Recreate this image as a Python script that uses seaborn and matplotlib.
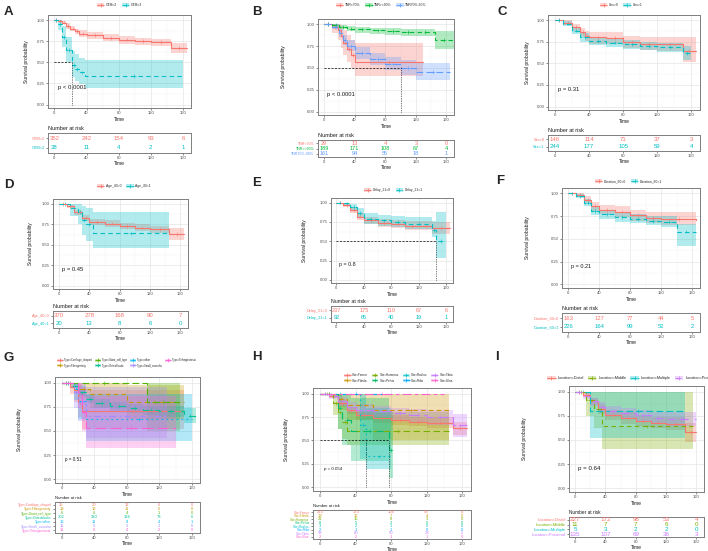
import matplotlib
matplotlib.use("Agg")
import pandas as pd
import matplotlib.pyplot as plt
import seaborn as sns
from matplotlib.lines import Line2D
from matplotlib.patches import Patch
from matplotlib.ticker import AutoMinorLocator

# ---------------- data ----------------
RISK_TIMES = [0, 40, 80, 120, 160]

A_time = {"GTM=2": [0, 5, 10, 15, 20, 25, 30, 40, 60, 80, 100, 120, 145, 165],
          "GTM=3": [0, 5, 10, 15, 22, 26, 30, 38, 160]}
A_surv = {"GTM=2": [1, 0.99, 0.97, 0.93, 0.9, 0.87, 0.84, 0.82, 0.79, 0.77, 0.75, 0.74, 0.67, 0.67],
          "GTM=3": [1, 0.95, 0.8, 0.65, 0.47, 0.42, 0.38, 0.34, 0.34]}
A_low = {"GTM=2": [1, 0.98, 0.95, 0.9, 0.87, 0.83, 0.8, 0.78, 0.75, 0.72, 0.7, 0.69, 0.61, 0.61],
         "GTM=3": [1, 0.88, 0.68, 0.5, 0.33, 0.28, 0.24, 0.2, 0.2]}
A_high = {"GTM=2": [1, 1, 0.99, 0.96, 0.93, 0.9, 0.88, 0.86, 0.83, 0.81, 0.79, 0.78, 0.73, 0.73],
          "GTM=3": [1, 1, 0.93, 0.8, 0.64, 0.6, 0.55, 0.53, 0.53]}
A_risk = {"GTM=2": [352, 242, 154, 93, 6], "GTM=3": [38, 11, 4, 2, 1]}

B_time = {"TNR<70%": [0, 10, 18, 22, 25, 30, 35, 40, 130],
          "TNR>=90%": [0, 10, 20, 30, 40, 60, 80, 100, 120, 145, 170],
          "TNR70%-90%": [0, 10, 20, 25, 30, 40, 60, 80, 100, 120, 165]}
B_surv = {"TNR<70%": [1, 0.97, 0.93, 0.86, 0.79, 0.72, 0.65, 0.57, 0.57],
          "TNR>=90%": [1, 0.99, 0.97, 0.95, 0.94, 0.93, 0.92, 0.91, 0.91, 0.82, 0.82],
          "TNR70%-90%": [1, 0.97, 0.9, 0.82, 0.75, 0.67, 0.6, 0.55, 0.5, 0.45, 0.45]}
B_low = {"TNR<70%": [1, 0.9, 0.82, 0.73, 0.65, 0.57, 0.5, 0.41, 0.41],
         "TNR>=90%": [1, 0.97, 0.94, 0.92, 0.9, 0.89, 0.88, 0.87, 0.86, 0.72, 0.72],
         "TNR70%-90%": [1, 0.94, 0.85, 0.76, 0.69, 0.6, 0.53, 0.47, 0.42, 0.36, 0.36]}
B_high = {"TNR<70%": [1, 1, 1, 0.98, 0.93, 0.88, 0.82, 0.78, 0.78],
          "TNR>=90%": [1, 1, 0.99, 0.98, 0.97, 0.96, 0.96, 0.95, 0.95, 0.92, 0.92],
          "TNR70%-90%": [1, 1, 0.95, 0.88, 0.82, 0.74, 0.67, 0.63, 0.59, 0.56, 0.56]}
B_risk = {"TNR<70%": [29, 13, 4, 3, 0], "TNR>=90%": [189, 171, 108, 67, 4],
          "TNR70%-90%": [161, 94, 55, 18, 1]}

C_time = {"Sex=0": [0, 10, 20, 30, 35, 40, 60, 80, 100, 120, 150, 165],
          "Sex=1": [0, 10, 20, 30, 40, 60, 80, 100, 120, 150, 160]}
C_surv = {"Sex=0": [1, 0.97, 0.92, 0.86, 0.82, 0.8, 0.79, 0.75, 0.73, 0.72, 0.64, 0.64],
          "Sex=1": [1, 0.96, 0.88, 0.8, 0.76, 0.74, 0.72, 0.7, 0.69, 0.62, 0.62]}
C_low = {"Sex=0": [1, 0.94, 0.88, 0.8, 0.76, 0.73, 0.72, 0.68, 0.66, 0.64, 0.52, 0.52],
         "Sex=1": [1, 0.93, 0.84, 0.75, 0.71, 0.69, 0.67, 0.65, 0.63, 0.54, 0.54]}
C_high = {"Sex=0": [1, 1, 0.96, 0.91, 0.88, 0.86, 0.86, 0.82, 0.8, 0.8, 0.8, 0.8],
          "Sex=1": [1, 0.99, 0.92, 0.85, 0.81, 0.79, 0.77, 0.75, 0.74, 0.7, 0.7]}
C_risk = {"Sex=0": [146, 114, 71, 37, 3], "Sex=1": [244, 177, 105, 59, 4]}

D_time = {"Age_40=0": [0, 10, 20, 30, 40, 60, 80, 100, 120, 145, 165],
          "Age_40=1": [0, 15, 25, 30, 35, 45, 145]}
D_surv = {"Age_40=0": [1, 0.97, 0.9, 0.83, 0.78, 0.76, 0.73, 0.71, 0.69, 0.63, 0.63],
          "Age_40=1": [1, 0.95, 0.9, 0.8, 0.75, 0.64, 0.64]}
D_low = {"Age_40=0": [1, 0.95, 0.87, 0.79, 0.74, 0.72, 0.69, 0.67, 0.65, 0.56, 0.56],
         "Age_40=1": [1, 0.85, 0.75, 0.62, 0.55, 0.46, 0.46]}
D_high = {"Age_40=0": [1, 0.99, 0.93, 0.87, 0.82, 0.8, 0.77, 0.75, 0.73, 0.7, 0.7],
          "Age_40=1": [1, 1, 1, 0.98, 0.95, 0.9, 0.9]}
D_risk = {"Age_40=0": [370, 278, 168, 90, 7], "Age_40=1": [20, 13, 8, 6, 0]}

E_time = {"Delay_21=0": [0, 10, 20, 30, 40, 60, 80, 100, 120, 140, 165],
          "Delay_21=1": [0, 10, 20, 30, 40, 60, 80, 100, 140, 145, 160]}
E_surv = {"Delay_21=0": [1, 0.97, 0.9, 0.82, 0.77, 0.74, 0.72, 0.7, 0.7, 0.67, 0.67],
          "Delay_21=1": [1, 0.99, 0.94, 0.87, 0.79, 0.77, 0.75, 0.73, 0.65, 0.5, 0.5]}
E_low = {"Delay_21=0": [1, 0.95, 0.86, 0.77, 0.72, 0.69, 0.67, 0.65, 0.64, 0.59, 0.59],
         "Delay_21=1": [1, 0.96, 0.89, 0.81, 0.72, 0.7, 0.68, 0.66, 0.55, 0.28, 0.28]}
E_high = {"Delay_21=0": [1, 0.99, 0.94, 0.86, 0.82, 0.79, 0.77, 0.76, 0.76, 0.75, 0.75],
          "Delay_21=1": [1, 1, 0.98, 0.93, 0.86, 0.84, 0.83, 0.81, 0.76, 0.88, 0.88]}
E_risk = {"Delay_21=0": [237, 175, 110, 67, 6], "Delay_21=1": [92, 65, 40, 19, 1]}

F_time = {"Duration_60=0": [0, 10, 20, 30, 40, 60, 80, 100, 120, 165],
          "Duration_60=1": [0, 10, 20, 30, 40, 60, 80, 100, 120, 140, 165]}
F_surv = {"Duration_60=0": [1, 0.98, 0.93, 0.86, 0.82, 0.8, 0.76, 0.73, 0.72, 0.71],
          "Duration_60=1": [1, 0.97, 0.9, 0.81, 0.77, 0.74, 0.72, 0.7, 0.69, 0.58, 0.58]}
F_low = {"Duration_60=0": [1, 0.96, 0.89, 0.81, 0.77, 0.74, 0.7, 0.67, 0.65, 0.62],
         "Duration_60=1": [1, 0.95, 0.86, 0.76, 0.72, 0.69, 0.67, 0.65, 0.63, 0.42, 0.42]}
F_high = {"Duration_60=0": [1, 1, 0.97, 0.91, 0.87, 0.86, 0.82, 0.8, 0.8, 0.8],
          "Duration_60=1": [1, 0.99, 0.94, 0.86, 0.82, 0.79, 0.77, 0.75, 0.75, 0.66, 0.66]}
F_risk = {"Duration_60=0": [163, 127, 77, 44, 5], "Duration_60=1": [226, 164, 99, 52, 2]}

G_time = {"Type=Cartilage_shaped": [0, 10, 15, 20, 25, 150],
          "Type=Fibrogenicity": [0, 20, 35, 80, 150],
          "Type=Giant_cell_type": [0, 105, 145],
          "Type=Osteoblastic": [0, 10, 20, 30, 40, 60, 80, 100, 120, 150, 165],
          "Type=other": [0, 15, 20, 30, 160],
          "Type=Small_vascular": [0, 15, 20, 30, 130],
          "Type=Telangiectasia": [0, 20, 25, 30, 140]}
G_surv = {"Type=Cartilage_shaped": [1, 0.96, 0.92, 0.8, 0.71, 0.71],
          "Type=Fibrogenicity": [1, 0.94, 0.88, 0.8, 0.8],
          "Type=Giant_cell_type": [1, 0.8, 0.8],
          "Type=Osteoblastic": [1, 0.97, 0.9, 0.83, 0.79, 0.76, 0.74, 0.72, 0.71, 0.66, 0.66],
          "Type=other": [1, 0.94, 0.81, 0.62, 0.62],
          "Type=Small_vascular": [1, 0.9, 0.8, 0.66, 0.66],
          "Type=Telangiectasia": [1, 0.9, 0.7, 0.53, 0.53]}
G_low = {"Type=Cartilage_shaped": [1, 0.88, 0.8, 0.64, 0.52, 0.52],
         "Type=Fibrogenicity": [1, 0.84, 0.74, 0.62, 0.62],
         "Type=Giant_cell_type": [1, 0.5, 0.5],
         "Type=Osteoblastic": [1, 0.95, 0.86, 0.79, 0.74, 0.71, 0.69, 0.67, 0.65, 0.58, 0.58],
         "Type=other": [1, 0.82, 0.62, 0.4, 0.4],
         "Type=Small_vascular": [1, 0.74, 0.6, 0.43, 0.43],
         "Type=Telangiectasia": [1, 0.74, 0.5, 0.32, 0.32]}
G_high = {"Type=Cartilage_shaped": [1, 1, 1, 0.98, 0.93, 0.93],
          "Type=Fibrogenicity": [1, 1, 1, 0.98, 0.98],
          "Type=Giant_cell_type": [1, 1, 1],
          "Type=Osteoblastic": [1, 0.99, 0.93, 0.87, 0.83, 0.8, 0.78, 0.76, 0.76, 0.74, 0.74],
          "Type=other": [1, 1, 0.97, 0.88, 0.88],
          "Type=Small_vascular": [1, 1, 1, 0.96, 0.96],
          "Type=Telangiectasia": [1, 1, 0.96, 0.86, 0.86]}
G_risk = {"Type=Cartilage_shaped": [25, 20, 12, 6, 0], "Type=Fibrogenicity": [18, 12, 11, 6, 0],
          "Type=Giant_cell_type": [6, 6, 4, 1, 0], "Type=Osteoblastic": [302, 230, 134, 73, 6],
          "Type=other": [16, 11, 8, 4, 1], "Type=Small_vascular": [11, 6, 3, 2, 0],
          "Type=Telangiectasia": [11, 6, 4, 2, 0]}

H_time = {"Site=Femur": [0, 10, 20, 30, 40, 60, 80, 100, 120, 150, 165],
          "Site=Fibula": [0, 20, 30, 60, 145],
          "Site=Humerus": [0, 15, 20, 25, 30, 145],
          "Site=Pelvis": [0, 20, 25, 35, 78, 82],
          "Site=Radius": [0, 45, 52, 80],
          "Site=Ribs": [0, 80],
          "Site=Tibia": [0, 10, 20, 30, 40, 60, 80, 100, 120, 150, 165],
          "Site=Ulna": [0, 140]}
H_surv = {"Site=Femur": [1, 0.97, 0.9, 0.82, 0.77, 0.74, 0.72, 0.7, 0.69, 0.63, 0.63],
          "Site=Fibula": [1, 0.94, 0.88, 0.82, 0.82],
          "Site=Humerus": [1, 0.9, 0.8, 0.7, 0.6, 0.6],
          "Site=Pelvis": [1, 0.85, 0.72, 0.6, 0.4, 0.4],
          "Site=Radius": [1, 0.67, 0.33, 0.33],
          "Site=Ribs": [1, 1],
          "Site=Tibia": [1, 0.97, 0.92, 0.86, 0.83, 0.81, 0.79, 0.77, 0.75, 0.66, 0.66],
          "Site=Ulna": [1, 1]}
H_low = {"Site=Femur": [1, 0.95, 0.86, 0.78, 0.72, 0.69, 0.67, 0.65, 0.63, 0.56, 0.56],
         "Site=Fibula": [1, 0.83, 0.72, 0.5, 0.5],
         "Site=Humerus": [1, 0.77, 0.62, 0.52, 0.45, 0.45],
         "Site=Pelvis": [1, 0.62, 0.45, 0.28, 0.1, 0.1],
         "Site=Radius": [1, 0.3, 0.2, 0.2],
         "Site=Ribs": [1, 1],
         "Site=Tibia": [1, 0.94, 0.87, 0.8, 0.77, 0.75, 0.72, 0.7, 0.67, 0.54, 0.54],
         "Site=Ulna": [1, 1]}
H_high = {"Site=Femur": [1, 0.99, 0.93, 0.86, 0.81, 0.79, 0.77, 0.75, 0.75, 0.7, 0.7],
          "Site=Fibula": [1, 1, 1, 1, 1],
          "Site=Humerus": [1, 1, 0.98, 0.9, 0.8, 0.8],
          "Site=Pelvis": [1, 1, 1, 0.95, 0.8, 0.8],
          "Site=Radius": [1, 1, 0.85, 0.85],
          "Site=Ribs": [1, 1],
          "Site=Tibia": [1, 1, 0.96, 0.91, 0.89, 0.87, 0.85, 0.84, 0.83, 0.78, 0.78],
          "Site=Ulna": [1, 1]}
H_risk = {"Site=Femur": [223, 173, 104, 58, 4], "Site=Fibula": [19, 16, 7, 4, 0],
          "Site=Humerus": [21, 15, 8, 3, 0], "Site=Pelvis": [8, 5, 2, 0, 0],
          "Site=Radius": [3, 2, 1, 0, 0], "Site=Ribs": [2, 1, 1, 0, 0],
          "Site=Tibia": [96, 80, 50, 28, 2], "Site=Ulna": [2, 2, 1, 1, 0]}

I_time = {"Location=Distal": [0, 10, 20, 30, 40, 60, 80, 100, 120, 145, 160],
          "Location=Middle": [0, 15, 25, 35, 155],
          "Location=Multiple": [0, 20, 145],
          "Location=Proximal": [0, 10, 20, 30, 40, 60, 80, 100, 120, 160]}
I_surv = {"Location=Distal": [1, 0.97, 0.9, 0.82, 0.76, 0.73, 0.7, 0.68, 0.67, 0.58, 0.58],
          "Location=Middle": [1, 0.91, 0.82, 0.64, 0.64],
          "Location=Multiple": [1, 0.8, 0.8],
          "Location=Proximal": [1, 0.96, 0.9, 0.84, 0.8, 0.78, 0.76, 0.73, 0.72, 0.72]}
I_low = {"Location=Distal": [1, 0.95, 0.86, 0.77, 0.71, 0.67, 0.64, 0.62, 0.6, 0.48, 0.48],
         "Location=Middle": [1, 0.75, 0.62, 0.41, 0.41],
         "Location=Multiple": [1, 0.52, 0.52],
         "Location=Proximal": [1, 0.93, 0.85, 0.79, 0.75, 0.72, 0.7, 0.67, 0.65, 0.65]}
I_high = {"Location=Distal": [1, 0.99, 0.94, 0.87, 0.81, 0.79, 0.76, 0.74, 0.74, 0.68, 0.68],
          "Location=Middle": [1, 1, 1, 1, 1],
          "Location=Multiple": [1, 1, 1],
          "Location=Proximal": [1, 0.99, 0.94, 0.89, 0.85, 0.83, 0.81, 0.79, 0.79, 0.79]}
I_risk = {"Location=Distal": [227, 172, 98, 53, 4], "Location=Middle": [11, 7, 7, 6, 0],
          "Location=Multiple": [5, 3, 2, 2, 0], "Location=Proximal": [135, 107, 69, 36, 3]}

PAL2 = ["#F8766D", "#00BFC4"]
PAL3 = ["#F8766D", "#00BA38", "#619CFF"]
PAL4 = ["#F8766D", "#7CAE00", "#00BFC4", "#C77CFF"]
PAL7 = ["#F8766D", "#C49A00", "#53B400", "#00C094", "#00B6EB", "#A58AFF", "#FB61D7"]
PAL8 = ["#F8766D", "#CD9600", "#7CAE00", "#00BE67", "#00BFC4", "#00A9FF", "#C77CFF", "#FF61CC"]
DASHES = ["", (4, 3), (6, 3), (6, 6), (1.5, 3), (1.5, 3, 6, 3), (10, 4), (3, 3, 8, 3)]

# ---------------- figure ----------------
W, H = 708, 551
sns.set_theme(style="white")
plt.rcParams["font.family"] = ["Liberation Sans", "DejaVu Sans"]
fig = plt.figure(figsize=(W / 100, H / 100), dpi=100)


def rect(x0, y0, x1, y1):
    return [x0 / W, 1 - y1 / H, (x1 - x0) / W, (y1 - y0) / H]


def style_axis(ax):
    for s in ax.spines.values():
        s.set_color("#7f7f7f")
        s.set_linewidth(0.7)
    ax.set_xlim(-8, 170)
    ax.set_xticks(RISK_TIMES)
    ax.tick_params(length=1.5, width=0.4, color="#333333", labelsize=3, pad=1,
                   labelcolor="#4d4d4d", bottom=True, left=True)


def km_panel(letter, letter_px, plot_px, risk_px, legend_px, ylab_x, times, surv, low, high,
             risk, pval, palette, pfs=4.2, tfs=4, rfs=4.3, lfs=2.8, gfs=2.4, legend_rows=1,
             colsp=1.4):
    groups = list(times)
    colors = dict(zip(groups, palette))
    dashes = dict(zip(groups, DASHES))
    curves = pd.concat([pd.DataFrame({"group": g, "time": times[g], "surv": surv[g],
                                      "low": low[g], "high": high[g]}) for g in groups],
                       ignore_index=True)

    ax = fig.add_axes(rect(*plot_px))
    for g in groups:
        d = curves[curves.group == g]
        ax.fill_between(d.time, d.low, d.high, step="post", color=colors[g], alpha=0.3, lw=0)
    sns.lineplot(data=curves, x="time", y="surv", hue="group", style="group",
                 hue_order=groups, style_order=groups, palette=colors, dashes=dashes,
                 drawstyle="steps-post", lw=0.8, legend=False, errorbar=None, ax=ax)
    # censor ticks in the middle of each plateau
    marks = curves.copy()
    marks["next"] = curves.groupby("group").time.shift(-1)
    marks = marks.dropna()
    marks["mid"] = (marks.time + marks.next) / 2
    sns.scatterplot(data=marks, x="mid", y="surv", hue="group", palette=colors,
                    marker="+", s=7, linewidth=0.4, legend=False, ax=ax)
    # median survival lines
    meds = [curves[(curves.group == g) & (curves.surv <= 0.5)].time.min() for g in groups]
    meds = [m for m in meds if pd.notna(m)]
    if meds:
        ax.plot([0, max(meds)], [0.5, 0.5], color="black", lw=0.5, ls=(0, (3, 2)))
        for m in meds:
            ax.plot([m, m], [0, 0.5], color="black", lw=0.5, ls=(0, (1, 1.5)))
    ax.text(4, 0.2, pval, fontsize=pfs, va="center", ha="left", color="#1a1a1a")
    style_axis(ax)
    ax.set_ylim(-0.04, 1.06)
    ax.set_yticks([0, 0.25, 0.5, 0.75, 1.0])
    ax.set_yticklabels(["0.00", "0.25", "0.50", "0.75", "1.00"])
    ax.xaxis.set_minor_locator(AutoMinorLocator(2))
    ax.yaxis.set_minor_locator(AutoMinorLocator(2))
    ax.grid(True, which="major", color="#e5e5e5", lw=0.5)
    ax.grid(True, which="minor", color="#f2f2f2", lw=0.3)
    ax.tick_params(which="minor", length=0)
    ax.set_xlabel("Time", fontsize=3.6, labelpad=1, color="#1a1a1a")
    ax.set_ylabel("Survival probability", fontsize=3.6, color="#1a1a1a")
    ax.yaxis.set_label_coords((ylab_x - plot_px[0]) / (plot_px[2] - plot_px[0]), 0.5)

    # legend on top
    handles = [(Patch(facecolor=colors[g], alpha=0.3, lw=0),
                Line2D([0], [0], color=colors[g], lw=0.6,
                       ls="-" if dashes[g] == "" else (0, dashes[g]),
                       marker="+", ms=2.5, mew=0.5)) for g in groups]
    ncol = -(-len(groups) // legend_rows)
    fig.legend(handles, groups, loc="center left",
               bbox_to_anchor=(legend_px[0] / W, 1 - legend_px[1] / H),
               ncol=ncol, frameon=False, fontsize=gfs, handlelength=2.2, handleheight=1.3,
               columnspacing=colsp, handletextpad=0.5, labelspacing=0.4,
               borderaxespad=0, borderpad=0)

    # risk table
    rax = fig.add_axes(rect(*risk_px))
    n = len(groups)
    for i, g in enumerate(groups):
        for t, v in zip(RISK_TIMES, risk[g]):
            rax.text(t, n - 1 - i, str(v), color=colors[g], ha="center", va="center",
                     fontsize=rfs)
    style_axis(rax)
    rax.set_ylim(-0.6, n - 0.4)
    rax.set_yticks(range(n))
    rax.set_yticklabels(groups[::-1], fontsize=lfs)
    for lbl, g in zip(rax.get_yticklabels(), groups[::-1]):
        lbl.set_color(colors[g])
    rax.set_xlabel("Time", fontsize=3.6, labelpad=0.5, color="#1a1a1a")
    rax.set_title("Number at risk", loc="left", fontsize=tfs, pad=2, color="#1a1a1a")

    fig.text(letter_px[0] / W, 1 - letter_px[1] / H, letter, fontsize=9.5,
             fontweight="bold", ha="left", va="center")


km_panel("A", (4, 12), (48, 15, 191, 108), (48, 133, 191, 153), (97, 5), 29,
         A_time, A_surv, A_low, A_high, A_risk, "p < 0.0001", PAL2, pfs=4.3)
km_panel("B", (252, 12), (318, 19, 454, 115), (318, 140, 454, 157), (336, 5), 286,
         B_time, B_surv, B_low, B_high, B_risk, "p < 0.0001", PAL3, rfs=4, lfs=2.6)
km_panel("C", (497, 12), (548, 15, 700, 110), (548, 135, 700, 151), (600, 5), 530,
         C_time, C_surv, C_low, C_high, C_risk, "p = 0.31", PAL2)
km_panel("D", (4, 185), (53, 199, 188, 289), (53, 311, 188, 328), (97, 186), 33,
         D_time, D_surv, D_low, D_high, D_risk, "p = 0.45", PAL2)
km_panel("E", (252, 183), (331, 198, 453, 283), (331, 306, 453, 322), (364, 190), 307,
         E_time, E_surv, E_low, E_high, E_risk, "p = 0.8", PAL2, pfs=3.8, rfs=4, tfs=3.8)
km_panel("F", (496, 181), (562, 188, 700, 288), (562, 313, 700, 332), (595, 181), 530,
         F_time, F_surv, F_low, F_high, F_risk, "p = 0.21", PAL2, pfs=4, rfs=4.2)
km_panel("G", (4, 358), (55, 377, 200, 483), (55, 502, 200, 533), (57, 363), 22,
         G_time, G_surv, G_low, G_high, G_risk, "p = 0.51", PAL7, pfs=3.3, tfs=3,
         rfs=3, lfs=2.3, gfs=1.9, legend_rows=2, colsp=1.2)
km_panel("H", (252, 357), (313, 388, 471, 491), (313, 510, 471, 539), (344, 378), 289,
         H_time, H_surv, H_low, H_high, H_risk, "p = 0.054", PAL8, pfs=3.2, tfs=3,
         rfs=3, lfs=2.2, gfs=2.2, legend_rows=2, colsp=1.2)
km_panel("I", (495, 357), (569, 386, 704, 492), (569, 517, 704, 537), (547, 378), 527,
         I_time, I_surv, I_low, I_high, I_risk, "p = 0.64", PAL4, pfs=4.4, tfs=3.4,
         rfs=4.5, lfs=3, gfs=2.8, colsp=1.0)

fig.savefig("out.png", dpi=100)
